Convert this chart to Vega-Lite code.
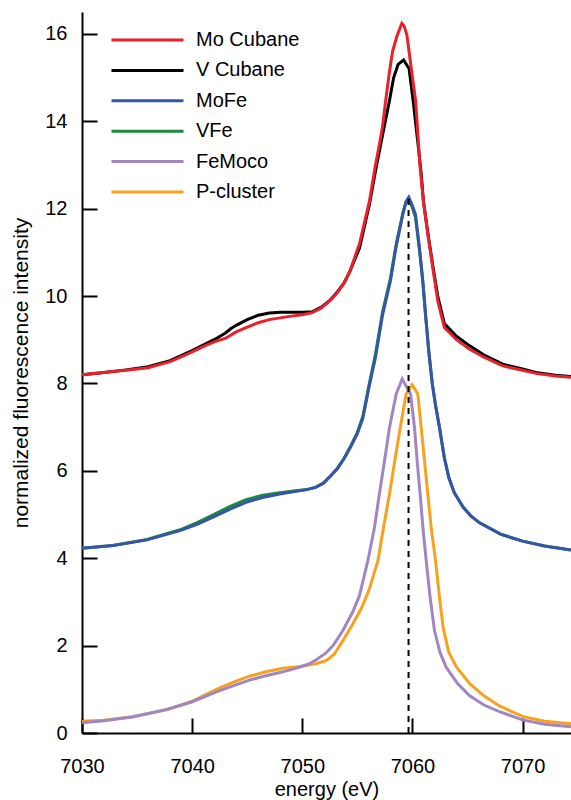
{
  "$schema": "https://vega.github.io/schema/vega-lite/v6.json",
  "width": 489,
  "height": 721,
  "autosize": {"type": "none"},
  "padding": {"left": 82, "top": 12, "right": 0, "bottom": 67},
  "background": "white",
  "config": {
    "view": {"stroke": null},
    "font": "Liberation Sans",
    "axis": {
      "grid": false,
      "domainColor": "black",
      "domainWidth": 2,
      "tickColor": "black",
      "tickWidth": 2,
      "tickSize": -15,
      "labelFlush": false,
      "labelOverlap": false,
      "labelFont": "Liberation Sans",
      "labelFontSize": 20,
      "labelColor": "black",
      "titleFont": "Liberation Sans",
      "titleFontSize": 20,
      "titleFontWeight": "normal",
      "titleColor": "black"
    },
    "legend": {
      "orient": "none",
      "legendX": 28,
      "legendY": 18,
      "symbolType": "stroke",
      "symbolSize": 5184,
      "symbolStrokeWidth": 3,
      "labelFont": "Liberation Sans",
      "labelFontSize": 20,
      "labelColor": "black",
      "clipHeight": 20,
      "rowPadding": 10.4,
      "labelOffset": 11,
      "padding": 0
    }
  },
  "datasets": {
    "spectra": [
      {"s": "V Cubane", "x": 7030, "y": 8.20}, {"s": "V Cubane", "x": 7032, "y": 8.25}, {"s": "V Cubane", "x": 7034, "y": 8.31}, {"s": "V Cubane", "x": 7036, "y": 8.38}, {"s": "V Cubane", "x": 7038, "y": 8.52}, {"s": "V Cubane", "x": 7040, "y": 8.75}, {"s": "V Cubane", "x": 7041, "y": 8.88}, {"s": "V Cubane", "x": 7042, "y": 9.00}, {"s": "V Cubane", "x": 7043, "y": 9.15}, {"s": "V Cubane", "x": 7043.5, "y": 9.25}, {"s": "V Cubane", "x": 7044, "y": 9.33}, {"s": "V Cubane", "x": 7045, "y": 9.46}, {"s": "V Cubane", "x": 7046, "y": 9.56}, {"s": "V Cubane", "x": 7047, "y": 9.61}, {"s": "V Cubane", "x": 7048, "y": 9.63}, {"s": "V Cubane", "x": 7049, "y": 9.63}, {"s": "V Cubane", "x": 7050, "y": 9.63}, {"s": "V Cubane", "x": 7050.9, "y": 9.64}, {"s": "V Cubane", "x": 7051.7, "y": 9.74}, {"s": "V Cubane", "x": 7052.5, "y": 9.90}, {"s": "V Cubane", "x": 7053.2, "y": 10.1}, {"s": "V Cubane", "x": 7053.8, "y": 10.3}, {"s": "V Cubane", "x": 7054.3, "y": 10.55}, {"s": "V Cubane", "x": 7055.2, "y": 11.1}, {"s": "V Cubane", "x": 7056.1, "y": 12.1}, {"s": "V Cubane", "x": 7056.7, "y": 12.93}, {"s": "V Cubane", "x": 7057.3, "y": 13.7}, {"s": "V Cubane", "x": 7057.9, "y": 14.45}, {"s": "V Cubane", "x": 7058.3, "y": 15.0}, {"s": "V Cubane", "x": 7058.7, "y": 15.3}, {"s": "V Cubane", "x": 7059.2, "y": 15.4}, {"s": "V Cubane", "x": 7059.7, "y": 15.2}, {"s": "V Cubane", "x": 7060.1, "y": 14.4}, {"s": "V Cubane", "x": 7060.5, "y": 13.5}, {"s": "V Cubane", "x": 7060.8, "y": 12.8}, {"s": "V Cubane", "x": 7061.0, "y": 12.17}, {"s": "V Cubane", "x": 7061.4, "y": 11.45}, {"s": "V Cubane", "x": 7061.85, "y": 10.7}, {"s": "V Cubane", "x": 7062.3, "y": 10.0}, {"s": "V Cubane", "x": 7062.9, "y": 9.37}, {"s": "V Cubane", "x": 7064, "y": 9.08}, {"s": "V Cubane", "x": 7065.2, "y": 8.86}, {"s": "V Cubane", "x": 7066.5, "y": 8.65}, {"s": "V Cubane", "x": 7068.2, "y": 8.44}, {"s": "V Cubane", "x": 7070, "y": 8.33}, {"s": "V Cubane", "x": 7071.2, "y": 8.25}, {"s": "V Cubane", "x": 7073, "y": 8.19}, {"s": "V Cubane", "x": 7074.4, "y": 8.16},

      {"s": "Mo Cubane", "x": 7030, "y": 8.20}, {"s": "Mo Cubane", "x": 7032, "y": 8.25}, {"s": "Mo Cubane", "x": 7034, "y": 8.30}, {"s": "Mo Cubane", "x": 7036, "y": 8.36}, {"s": "Mo Cubane", "x": 7038, "y": 8.50}, {"s": "Mo Cubane", "x": 7039, "y": 8.61}, {"s": "Mo Cubane", "x": 7040, "y": 8.72}, {"s": "Mo Cubane", "x": 7041, "y": 8.84}, {"s": "Mo Cubane", "x": 7042, "y": 8.95}, {"s": "Mo Cubane", "x": 7043, "y": 9.03}, {"s": "Mo Cubane", "x": 7044, "y": 9.18}, {"s": "Mo Cubane", "x": 7045, "y": 9.29}, {"s": "Mo Cubane", "x": 7046, "y": 9.39}, {"s": "Mo Cubane", "x": 7047, "y": 9.46}, {"s": "Mo Cubane", "x": 7048, "y": 9.50}, {"s": "Mo Cubane", "x": 7049, "y": 9.54}, {"s": "Mo Cubane", "x": 7050, "y": 9.57}, {"s": "Mo Cubane", "x": 7050.9, "y": 9.62}, {"s": "Mo Cubane", "x": 7051.7, "y": 9.72}, {"s": "Mo Cubane", "x": 7052.5, "y": 9.89}, {"s": "Mo Cubane", "x": 7053.2, "y": 10.08}, {"s": "Mo Cubane", "x": 7053.8, "y": 10.3}, {"s": "Mo Cubane", "x": 7054.3, "y": 10.55}, {"s": "Mo Cubane", "x": 7055.2, "y": 11.2}, {"s": "Mo Cubane", "x": 7056.1, "y": 12.17}, {"s": "Mo Cubane", "x": 7056.6, "y": 12.93}, {"s": "Mo Cubane", "x": 7057.1, "y": 13.6}, {"s": "Mo Cubane", "x": 7057.3, "y": 13.9}, {"s": "Mo Cubane", "x": 7057.56, "y": 14.45}, {"s": "Mo Cubane", "x": 7057.9, "y": 15.1}, {"s": "Mo Cubane", "x": 7058.2, "y": 15.6}, {"s": "Mo Cubane", "x": 7058.6, "y": 15.95}, {"s": "Mo Cubane", "x": 7059.04, "y": 16.24}, {"s": "Mo Cubane", "x": 7059.25, "y": 16.18}, {"s": "Mo Cubane", "x": 7059.5, "y": 15.97}, {"s": "Mo Cubane", "x": 7059.9, "y": 15.2}, {"s": "Mo Cubane", "x": 7060.3, "y": 14.45}, {"s": "Mo Cubane", "x": 7060.7, "y": 12.93}, {"s": "Mo Cubane", "x": 7061.0, "y": 12.17}, {"s": "Mo Cubane", "x": 7061.4, "y": 11.41}, {"s": "Mo Cubane", "x": 7061.85, "y": 10.65}, {"s": "Mo Cubane", "x": 7062.3, "y": 9.89}, {"s": "Mo Cubane", "x": 7062.9, "y": 9.28}, {"s": "Mo Cubane", "x": 7064, "y": 9.0}, {"s": "Mo Cubane", "x": 7065.2, "y": 8.78}, {"s": "Mo Cubane", "x": 7066.5, "y": 8.6}, {"s": "Mo Cubane", "x": 7068.2, "y": 8.40}, {"s": "Mo Cubane", "x": 7070, "y": 8.30}, {"s": "Mo Cubane", "x": 7071.2, "y": 8.23}, {"s": "Mo Cubane", "x": 7073, "y": 8.17}, {"s": "Mo Cubane", "x": 7074.4, "y": 8.14},

      {"s": "VFe", "x": 7030, "y": 4.23}, {"s": "VFe", "x": 7032.8, "y": 4.29}, {"s": "VFe", "x": 7035.9, "y": 4.43}, {"s": "VFe", "x": 7038.9, "y": 4.65}, {"s": "VFe", "x": 7040.5, "y": 4.82}, {"s": "VFe", "x": 7041.9, "y": 4.99}, {"s": "VFe", "x": 7043.4, "y": 5.18}, {"s": "VFe", "x": 7044.9, "y": 5.34}, {"s": "VFe", "x": 7046.4, "y": 5.44}, {"s": "VFe", "x": 7047.95, "y": 5.50}, {"s": "VFe", "x": 7049.2, "y": 5.54}, {"s": "VFe", "x": 7050.4, "y": 5.57}, {"s": "VFe", "x": 7051.2, "y": 5.62}, {"s": "VFe", "x": 7051.9, "y": 5.72}, {"s": "VFe", "x": 7052.5, "y": 5.87}, {"s": "VFe", "x": 7053.2, "y": 6.06}, {"s": "VFe", "x": 7053.8, "y": 6.29}, {"s": "VFe", "x": 7054.4, "y": 6.57}, {"s": "VFe", "x": 7055.0, "y": 6.88}, {"s": "VFe", "x": 7055.5, "y": 7.25}, {"s": "VFe", "x": 7056.05, "y": 7.95}, {"s": "VFe", "x": 7056.65, "y": 8.68}, {"s": "VFe", "x": 7057.3, "y": 9.65}, {"s": "VFe", "x": 7058.0, "y": 10.4}, {"s": "VFe", "x": 7058.5, "y": 11.15}, {"s": "VFe", "x": 7059.13, "y": 11.9}, {"s": "VFe", "x": 7059.4, "y": 12.12}, {"s": "VFe", "x": 7059.67, "y": 12.2}, {"s": "VFe", "x": 7059.95, "y": 12.05}, {"s": "VFe", "x": 7060.28, "y": 11.8}, {"s": "VFe", "x": 7060.64, "y": 11.05}, {"s": "VFe", "x": 7060.95, "y": 10.3}, {"s": "VFe", "x": 7061.19, "y": 9.58}, {"s": "VFe", "x": 7061.5, "y": 8.7}, {"s": "VFe", "x": 7061.8, "y": 8.0}, {"s": "VFe", "x": 7062.1, "y": 7.5}, {"s": "VFe", "x": 7062.46, "y": 6.99}, {"s": "VFe", "x": 7062.9, "y": 6.3}, {"s": "VFe", "x": 7063.3, "y": 5.85}, {"s": "VFe", "x": 7063.8, "y": 5.5}, {"s": "VFe", "x": 7064.6, "y": 5.17}, {"s": "VFe", "x": 7065.3, "y": 4.97}, {"s": "VFe", "x": 7066.1, "y": 4.81}, {"s": "VFe", "x": 7068, "y": 4.55}, {"s": "VFe", "x": 7070, "y": 4.39}, {"s": "VFe", "x": 7072, "y": 4.28}, {"s": "VFe", "x": 7074.4, "y": 4.19},

      {"s": "MoFe", "x": 7030, "y": 4.23}, {"s": "MoFe", "x": 7032.8, "y": 4.29}, {"s": "MoFe", "x": 7035.9, "y": 4.42}, {"s": "MoFe", "x": 7038.9, "y": 4.63}, {"s": "MoFe", "x": 7040.5, "y": 4.78}, {"s": "MoFe", "x": 7041.9, "y": 4.94}, {"s": "MoFe", "x": 7043.4, "y": 5.12}, {"s": "MoFe", "x": 7044.9, "y": 5.28}, {"s": "MoFe", "x": 7046.4, "y": 5.39}, {"s": "MoFe", "x": 7047.95, "y": 5.47}, {"s": "MoFe", "x": 7049.2, "y": 5.52}, {"s": "MoFe", "x": 7050.4, "y": 5.57}, {"s": "MoFe", "x": 7051.2, "y": 5.62}, {"s": "MoFe", "x": 7051.9, "y": 5.71}, {"s": "MoFe", "x": 7052.5, "y": 5.86}, {"s": "MoFe", "x": 7053.2, "y": 6.05}, {"s": "MoFe", "x": 7053.8, "y": 6.28}, {"s": "MoFe", "x": 7054.4, "y": 6.55}, {"s": "MoFe", "x": 7055.0, "y": 6.85}, {"s": "MoFe", "x": 7055.5, "y": 7.2}, {"s": "MoFe", "x": 7056.05, "y": 7.9}, {"s": "MoFe", "x": 7056.65, "y": 8.6}, {"s": "MoFe", "x": 7057.3, "y": 9.58}, {"s": "MoFe", "x": 7058.0, "y": 10.34}, {"s": "MoFe", "x": 7058.5, "y": 11.1}, {"s": "MoFe", "x": 7059.13, "y": 11.87}, {"s": "MoFe", "x": 7059.4, "y": 12.15}, {"s": "MoFe", "x": 7059.67, "y": 12.26}, {"s": "MoFe", "x": 7059.95, "y": 12.1}, {"s": "MoFe", "x": 7060.28, "y": 11.87}, {"s": "MoFe", "x": 7060.64, "y": 11.1}, {"s": "MoFe", "x": 7060.95, "y": 10.34}, {"s": "MoFe", "x": 7061.19, "y": 9.58}, {"s": "MoFe", "x": 7061.5, "y": 8.7}, {"s": "MoFe", "x": 7061.8, "y": 8.0}, {"s": "MoFe", "x": 7062.1, "y": 7.5}, {"s": "MoFe", "x": 7062.46, "y": 6.99}, {"s": "MoFe", "x": 7062.9, "y": 6.3}, {"s": "MoFe", "x": 7063.3, "y": 5.85}, {"s": "MoFe", "x": 7063.8, "y": 5.5}, {"s": "MoFe", "x": 7064.6, "y": 5.17}, {"s": "MoFe", "x": 7065.3, "y": 4.97}, {"s": "MoFe", "x": 7066.1, "y": 4.81}, {"s": "MoFe", "x": 7068, "y": 4.55}, {"s": "MoFe", "x": 7070, "y": 4.39}, {"s": "MoFe", "x": 7072, "y": 4.28}, {"s": "MoFe", "x": 7074.4, "y": 4.19},

      {"s": "P-cluster", "x": 7030, "y": 0.27}, {"s": "P-cluster", "x": 7032, "y": 0.29}, {"s": "P-cluster", "x": 7034.65, "y": 0.37}, {"s": "P-cluster", "x": 7037.7, "y": 0.53}, {"s": "P-cluster", "x": 7039.95, "y": 0.72}, {"s": "P-cluster", "x": 7042.2, "y": 1.0}, {"s": "P-cluster", "x": 7043.7, "y": 1.16}, {"s": "P-cluster", "x": 7045.2, "y": 1.30}, {"s": "P-cluster", "x": 7046.7, "y": 1.40}, {"s": "P-cluster", "x": 7048.25, "y": 1.48}, {"s": "P-cluster", "x": 7049.8, "y": 1.52}, {"s": "P-cluster", "x": 7051.3, "y": 1.59}, {"s": "P-cluster", "x": 7052.2, "y": 1.66}, {"s": "P-cluster", "x": 7052.9, "y": 1.80}, {"s": "P-cluster", "x": 7053.7, "y": 2.12}, {"s": "P-cluster", "x": 7054.6, "y": 2.50}, {"s": "P-cluster", "x": 7055.4, "y": 2.87}, {"s": "P-cluster", "x": 7056.1, "y": 3.3}, {"s": "P-cluster", "x": 7056.87, "y": 3.95}, {"s": "P-cluster", "x": 7057.38, "y": 4.71}, {"s": "P-cluster", "x": 7057.92, "y": 5.47}, {"s": "P-cluster", "x": 7058.4, "y": 6.23}, {"s": "P-cluster", "x": 7058.9, "y": 6.99}, {"s": "P-cluster", "x": 7059.43, "y": 7.76}, {"s": "P-cluster", "x": 7059.98, "y": 7.97}, {"s": "P-cluster", "x": 7060.49, "y": 7.76}, {"s": "P-cluster", "x": 7060.8, "y": 6.99}, {"s": "P-cluster", "x": 7061.1, "y": 6.23}, {"s": "P-cluster", "x": 7061.4, "y": 5.47}, {"s": "P-cluster", "x": 7061.7, "y": 4.71}, {"s": "P-cluster", "x": 7062.1, "y": 3.95}, {"s": "P-cluster", "x": 7062.45, "y": 3.12}, {"s": "P-cluster", "x": 7062.8, "y": 2.4}, {"s": "P-cluster", "x": 7063.3, "y": 1.85}, {"s": "P-cluster", "x": 7064.0, "y": 1.51}, {"s": "P-cluster", "x": 7065.2, "y": 1.13}, {"s": "P-cluster", "x": 7066.5, "y": 0.85}, {"s": "P-cluster", "x": 7067.9, "y": 0.62}, {"s": "P-cluster", "x": 7070, "y": 0.38}, {"s": "P-cluster", "x": 7072, "y": 0.27}, {"s": "P-cluster", "x": 7074.4, "y": 0.21},

      {"s": "FeMoco", "x": 7030, "y": 0.235}, {"s": "FeMoco", "x": 7032, "y": 0.28}, {"s": "FeMoco", "x": 7034.65, "y": 0.37}, {"s": "FeMoco", "x": 7037.7, "y": 0.54}, {"s": "FeMoco", "x": 7039.95, "y": 0.71}, {"s": "FeMoco", "x": 7042.2, "y": 0.94}, {"s": "FeMoco", "x": 7043.7, "y": 1.08}, {"s": "FeMoco", "x": 7045.2, "y": 1.21}, {"s": "FeMoco", "x": 7046.7, "y": 1.31}, {"s": "FeMoco", "x": 7048.25, "y": 1.40}, {"s": "FeMoco", "x": 7049.8, "y": 1.51}, {"s": "FeMoco", "x": 7050.6, "y": 1.58}, {"s": "FeMoco", "x": 7051.3, "y": 1.68}, {"s": "FeMoco", "x": 7052.1, "y": 1.82}, {"s": "FeMoco", "x": 7052.8, "y": 2.0}, {"s": "FeMoco", "x": 7053.7, "y": 2.35}, {"s": "FeMoco", "x": 7054.6, "y": 2.78}, {"s": "FeMoco", "x": 7055.2, "y": 3.15}, {"s": "FeMoco", "x": 7055.96, "y": 3.95}, {"s": "FeMoco", "x": 7056.56, "y": 4.71}, {"s": "FeMoco", "x": 7057.0, "y": 5.47}, {"s": "FeMoco", "x": 7057.47, "y": 6.23}, {"s": "FeMoco", "x": 7057.92, "y": 6.99}, {"s": "FeMoco", "x": 7058.53, "y": 7.76}, {"s": "FeMoco", "x": 7059.07, "y": 8.10}, {"s": "FeMoco", "x": 7059.83, "y": 7.76}, {"s": "FeMoco", "x": 7060.19, "y": 6.99}, {"s": "FeMoco", "x": 7060.43, "y": 6.23}, {"s": "FeMoco", "x": 7060.7, "y": 5.47}, {"s": "FeMoco", "x": 7060.95, "y": 4.71}, {"s": "FeMoco", "x": 7061.25, "y": 3.95}, {"s": "FeMoco", "x": 7061.6, "y": 3.12}, {"s": "FeMoco", "x": 7062.0, "y": 2.35}, {"s": "FeMoco", "x": 7062.5, "y": 1.85}, {"s": "FeMoco", "x": 7063.06, "y": 1.51}, {"s": "FeMoco", "x": 7064.1, "y": 1.13}, {"s": "FeMoco", "x": 7065.2, "y": 0.85}, {"s": "FeMoco", "x": 7066.5, "y": 0.64}, {"s": "FeMoco", "x": 7067.9, "y": 0.49}, {"s": "FeMoco", "x": 7070, "y": 0.30}, {"s": "FeMoco", "x": 7072, "y": 0.20}, {"s": "FeMoco", "x": 7074.4, "y": 0.14}
    ],
    "marker": [{"x": 7059.65, "y": 0, "y2": 12.26}]
  },
  "encoding": {
    "x": {
      "field": "x", "type": "quantitative",
      "scale": {"domain": [7030, 7074.4], "nice": false, "zero": false},
      "axis": {"title": "energy (eV)", "values": [7030, 7040, 7050, 7060, 7070], "format": "d", "labelPadding": 38, "titleY": 62, "titleBaseline": "alphabetic"}
    },
    "y": {
      "field": "y", "type": "quantitative",
      "scale": {"domain": [0, 16.5], "nice": false},
      "axis": {"title": "normalized fluorescence intensity", "values": [0, 2, 4, 6, 8, 10, 12, 14, 16], "labelPadding": 30, "titleX": -55, "titleFontSize": 21, "titleBaseline": "alphabetic"}
    }
  },
  "layer": [
    {"data": {"name": "spectra"}, "transform": [{"filter": "datum.s === 'V Cubane'"}], "mark": {"type": "line", "strokeWidth": 3, "clip": true}, "encoding": {"color": {"field": "s", "type": "nominal", "title": null, "scale": {"domain": ["Mo Cubane", "V Cubane", "MoFe", "VFe", "FeMoco", "P-cluster"], "range": ["#e8212b", "#000000", "#3556a8", "#1d8b3d", "#a086c3", "#f7a21f"]}}}},
    {"data": {"name": "spectra"}, "transform": [{"filter": "datum.s === 'Mo Cubane'"}], "mark": {"type": "line", "strokeWidth": 3, "clip": true}, "encoding": {"color": {"field": "s", "type": "nominal"}}},
    {"data": {"name": "spectra"}, "transform": [{"filter": "datum.s === 'VFe'"}], "mark": {"type": "line", "strokeWidth": 3, "clip": true}, "encoding": {"color": {"field": "s", "type": "nominal"}}},
    {"data": {"name": "spectra"}, "transform": [{"filter": "datum.s === 'MoFe'"}], "mark": {"type": "line", "strokeWidth": 3, "clip": true}, "encoding": {"color": {"field": "s", "type": "nominal"}}},
    {"data": {"name": "spectra"}, "transform": [{"filter": "datum.s === 'P-cluster'"}], "mark": {"type": "line", "strokeWidth": 3, "clip": true}, "encoding": {"color": {"field": "s", "type": "nominal"}}},
    {"data": {"name": "spectra"}, "transform": [{"filter": "datum.s === 'FeMoco'"}], "mark": {"type": "line", "strokeWidth": 3, "clip": true}, "encoding": {"color": {"field": "s", "type": "nominal"}}},
    {"data": {"name": "marker"}, "mark": {"type": "rule", "color": "black", "strokeWidth": 2, "strokeDash": [6, 5]}, "encoding": {"y2": {"field": "y2"}}}
  ]
}
